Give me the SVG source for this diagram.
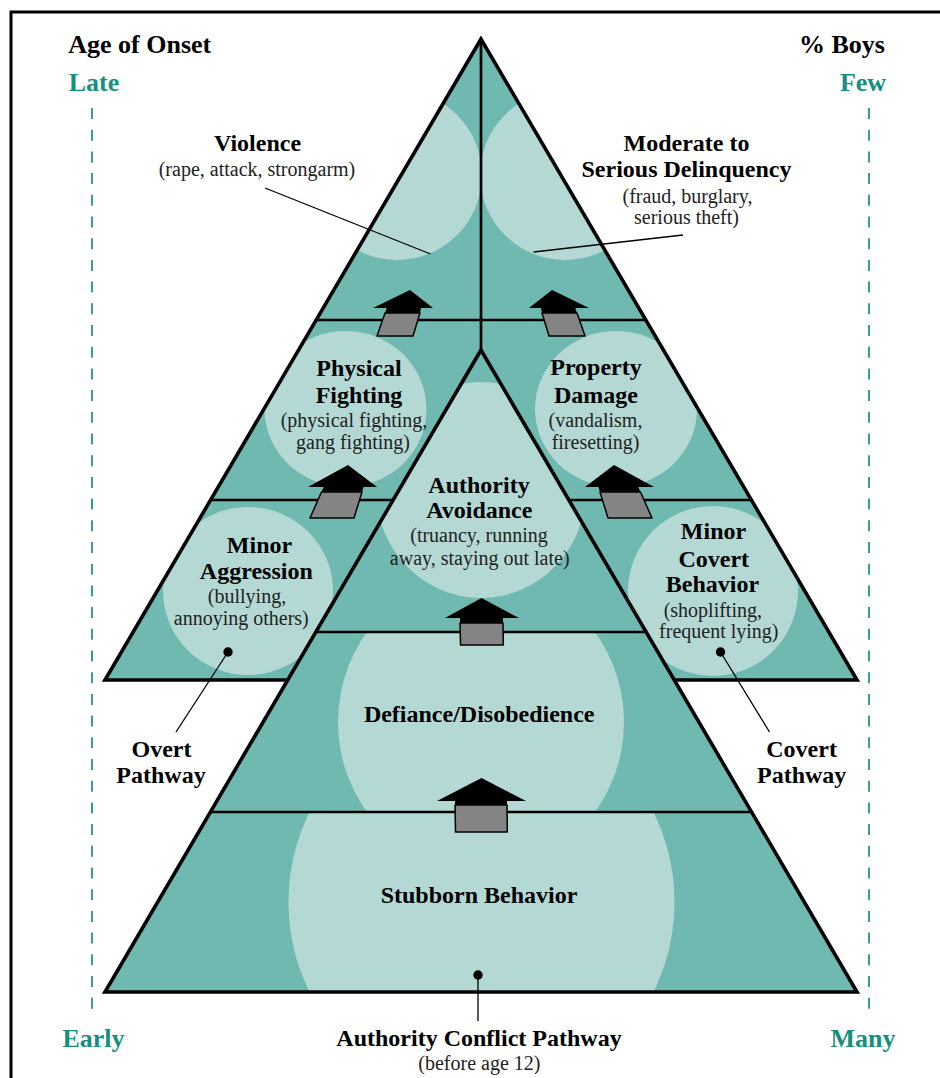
<svg xmlns="http://www.w3.org/2000/svg" width="940" height="1078" viewBox="0 0 940 1078">
<style>
.bg{fill:#ffffff}
.dk{fill:#6fb9b1}
.lt{fill:#b4d9d4}
.ln{stroke:#000;stroke-width:2.7;fill:none}
.ol{stroke:#000;stroke-width:3.6;fill:none}
.h{font-family:"Liberation Serif","Times New Roman",serif;font-weight:bold;font-size:24px;text-anchor:middle;fill:#000}
.s{font-family:"Liberation Serif","Times New Roman",serif;font-size:20px;text-anchor:middle;fill:#222}
.big{font-family:"Liberation Serif","Times New Roman",serif;font-weight:bold;font-size:26px;fill:#000}
.tl{font-family:"Liberation Serif","Times New Roman",serif;font-weight:bold;font-size:26px;fill:#168f7f;text-anchor:middle}
.head{fill:#000}
.shaft{fill:#848484;stroke:#000;stroke-width:1.5;stroke-linejoin:round}
.ld{stroke:#000;stroke-width:1.3;fill:none}
.dot{fill:#000}
.dash{stroke:#168f7f;stroke-width:1.7;stroke-dasharray:11 10.7;fill:none}
</style>
<defs>
<clipPath id="cU"><polygon points="481,39 105,680 857,680"/></clipPath>
<clipPath id="cA"><polygon points="481,350 315.8,632 646.2,632"/></clipPath>
<clipPath id="cD"><polygon points="315.8,632 646.2,632 751.6,812 210.4,812"/></clipPath>
<clipPath id="cS"><polygon points="210.4,812 751.6,812 857,992 105,992"/></clipPath>
</defs>
<rect class="bg" x="0" y="0" width="940" height="1078"/>
<path d="M11,1078 V12 H940" stroke="#000" stroke-width="3" fill="none"/>

<g id="axes">
<line class="dash" x1="92" y1="108" x2="92" y2="1015"/>
<line class="dash" x1="869" y1="108" x2="869" y2="1015"/>
<text class="big" x="68.3" y="53.3">Age of Onset</text>
<text class="big" x="885" y="53.3" text-anchor="end">% Boys</text>
<text class="tl" x="94" y="90.7">Late</text>
<text class="tl" x="863" y="90.7">Few</text>
<text class="tl" x="93.5" y="1047.3">Early</text>
<text class="tl" x="863" y="1047.3">Many</text>
</g>

<g id="upper-pyramid">
<polygon class="dk" points="481,39 105,680 857,680"/>
</g>

<g id="violence">
<ellipse class="lt" cx="397" cy="175" rx="85" ry="85" clip-path="url(#cU)"/>
<text class="h" x="257.5" y="151">Violence</text>
<text class="s" x="257" y="176">(rape, attack, strongarm)</text>
</g>
<g id="serious-delinquency">
<ellipse class="lt" cx="565" cy="175" rx="85" ry="85" clip-path="url(#cU)"/>
<text class="h" x="686.5" y="151">Moderate to</text>
<text class="h" x="686.5" y="177.3">Serious Delinquency</text>
<text class="s" x="687.5" y="202.7">(fraud, burglary,</text>
<text class="s" x="686.5" y="224">serious theft)</text>
</g>
<g id="physical-fighting">
<ellipse class="lt" cx="345.5" cy="409" rx="81" ry="78" clip-path="url(#cU)"/>
<text class="h" x="359" y="375.7">Physical</text>
<text class="h" x="359" y="402.7">Fighting</text>
<text class="s" x="354" y="427.3">(physical fighting,</text>
<text class="s" x="353" y="449.3">gang fighting)</text>
</g>
<g id="property-damage">
<ellipse class="lt" cx="616" cy="409" rx="81" ry="78" clip-path="url(#cU)"/>
<text class="h" x="596" y="375">Property</text>
<text class="h" x="596" y="402.7">Damage</text>
<text class="s" x="595.5" y="426.7">(vandalism,</text>
<text class="s" x="595.5" y="449.3">firesetting)</text>
</g>
<g id="minor-aggression">
<ellipse class="lt" cx="248" cy="591" rx="85" ry="84" clip-path="url(#cU)"/>
<text class="h" x="259.5" y="552.7">Minor</text>
<text class="h" x="256.3" y="579.3">Aggression</text>
<text class="s" x="247" y="602.7">(bullying,</text>
<text class="s" x="241.3" y="625">annoying others)</text>
</g>
<g id="minor-covert">
<ellipse class="lt" cx="713" cy="591" rx="85" ry="85" clip-path="url(#cU)"/>
<text class="h" x="713.5" y="539.3">Minor</text>
<text class="h" x="713.8" y="566.7">Covert</text>
<text class="h" x="712.5" y="591.7">Behavior</text>
<text class="s" x="712.8" y="616.7">(shoplifting,</text>
<text class="s" x="718.8" y="638.3">frequent lying)</text>
</g>

<g id="upper-lines">
<line class="ln" x1="481" y1="39" x2="481" y2="350"/>
<line class="ln" x1="315.8" y1="320" x2="646.2" y2="320"/>
<line class="ln" x1="210.4" y1="500" x2="393.1" y2="500"/>
<line class="ln" x1="568.9" y1="500" x2="751.6" y2="500"/>
<polygon class="ol" points="481,39 105,680 857,680"/>
</g>

<g id="lower-pyramid">
<polygon class="dk" points="481,350 105,992 857,992"/>
</g>
<g id="authority-avoidance">
<ellipse class="lt" cx="481" cy="490" rx="105" ry="108" clip-path="url(#cA)"/>
<text class="h" x="479" y="493.3">Authority</text>
<text class="h" x="479.3" y="518.3">Avoidance</text>
<text class="s" x="479" y="541.7">(truancy, running</text>
<text class="s" x="479.7" y="565">away, staying out late)</text>
</g>
<g id="defiance">
<ellipse class="lt" cx="481" cy="722" rx="143" ry="149" clip-path="url(#cD)"/>
<text class="h" x="479.2" y="721.7">Defiance/Disobedience</text>
</g>
<g id="stubborn">
<ellipse class="lt" cx="481.5" cy="902" rx="193" ry="198" clip-path="url(#cS)"/>
<text class="h" x="479" y="902.7">Stubborn Behavior</text>
</g>
<g id="lower-lines">
<line class="ln" x1="315.8" y1="632" x2="646.2" y2="632"/>
<line class="ln" x1="210.4" y1="812" x2="751.6" y2="812"/>
<polygon class="ol" points="481,350 105,992 857,992"/>
</g>

<g id="connectors">
<g id="arrow-tl">
<polygon class="head" points="410,290 433,308 421,308 420,313 385,313 386.7,308 373,308"/>
<polygon class="shaft" points="385,313 420,313 413,336 377,336"/>
</g>
<g id="arrow-tr">
<polygon class="head" points="552,290 529,308 541,308 542,313 577,313 575.3,308 589,308"/>
<polygon class="shaft" points="577,313 542,313 549,336 585,336"/>
</g>
<g id="arrow-ml">
<polygon class="head" points="348,465 377,487 363.5,487 362,492 321.5,492 323.7,487 308,487"/>
<polygon class="shaft" points="321.5,492 362,492 354,518 310,518"/>
</g>
<g id="arrow-mr">
<polygon class="head" points="614,465 585,487 598.5,487 600,492 640.5,492 638.3,487 654,487"/>
<polygon class="shaft" points="640.5,492 600,492 608,518 652,518"/>
</g>
<g id="arrow-cu">
<polygon class="head" points="481.5,598 519,618 503,618 503,623 460,623 460,618 445,618"/>
<polygon class="shaft" points="460,623 503,623 503.3,645 460.5,645"/>
</g>
<g id="arrow-cl">
<polygon class="head" points="481.5,778 526,801 507,801 507,805 455,805 455,801 437,801"/>
<polygon class="shaft" points="455,805 507,805 507.3,832 455.5,832"/>
</g>
<g id="leaders">
<line class="ld" x1="265" y1="188" x2="430.5" y2="254"/>
<line class="ld" x1="683" y1="235" x2="533.6" y2="252"/>
<circle class="dot" cx="228" cy="652" r="4.7"/>
<line class="ld" x1="228" y1="652" x2="176" y2="732"/>
<circle class="dot" cx="720.5" cy="652" r="4.7"/>
<line class="ld" x1="720.5" y1="652" x2="769.5" y2="732"/>
<circle class="dot" cx="478" cy="975" r="4.7"/>
<line class="ld" x1="478" y1="975" x2="478" y2="1021"/>
</g>
</g>

<g id="overt-pathway">
<text class="h" x="161.5" y="756.7">Overt</text>
<text class="h" x="161" y="783.3">Pathway</text>
</g>
<g id="covert-pathway">
<text class="h" x="801.6" y="756.7">Covert</text>
<text class="h" x="801.7" y="783.3">Pathway</text>
</g>
<g id="authority-conflict">
<text class="h" x="479" y="1046">Authority Conflict Pathway</text>
<text class="s" x="479.4" y="1070">(before age 12)</text>
</g>
</svg>
